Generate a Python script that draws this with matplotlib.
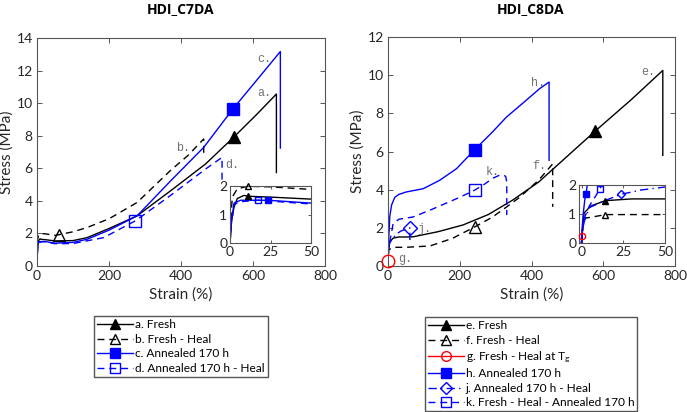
import numpy as np
import matplotlib
matplotlib.use('Agg')
import matplotlib.pyplot as plt
from matplotlib.lines import Line2D

plt.rcParams['font.family'] = ['Lato', 'DejaVu Sans']
plt.rcParams['mathtext.fontset'] = 'custom'
plt.rcParams['mathtext.rm'] = 'Lato'
plt.rcParams['mathtext.it'] = 'Lato'

# ---- HDI_C7DA (strain %, stress MPa) ----
a_x = [0, 1, 2.5, 4.5, 8.6, 11.3, 25, 50, 100, 139, 200, 278, 370, 468, 546, 610, 665, 665]
a_y = [0, 0.8, 1.26, 1.56, 1.67, 1.64, 1.61, 1.54, 1.56, 1.74, 2.3, 3.08, 4.6, 6.26, 7.9, 9.3, 10.56, 5.74]
b_x = [0, 0.6, 1.4, 4.5, 11, 25, 50, 60, 100, 139, 200, 278, 370, 420, 463, 463]
b_y = [0, 0.9, 1.61, 1.9, 1.99, 1.97, 1.88, 1.92, 2.1, 2.36, 2.9, 3.9, 5.85, 6.8, 7.8, 6.77]
c_x = [0, 1, 2.5, 6.5, 23.6, 50, 100, 139, 200, 278, 370, 463, 544, 610, 676, 676]
c_y = [0, 0.8, 1.4, 1.5, 1.5, 1.4, 1.45, 1.64, 2.2, 3.08, 5.2, 7.28, 9.64, 11.4, 13.17, 7.24]
d_x = [0, 1, 2.5, 6.5, 17.4, 50, 100, 185, 273, 369, 417, 468, 514, 514]
d_y = [0, 0.8, 1.35, 1.45, 1.5, 1.37, 1.38, 1.74, 2.77, 4.3, 5.1, 5.95, 6.67, 5.0]

# ---- HDI_C8DA ----
e_x = [0, 0.8, 1.6, 5.7, 14.3, 30, 50, 70, 140, 209, 280, 348, 420, 479, 577, 680, 766, 766]
e_y = [0, 0.6, 1.04, 1.28, 1.46, 1.52, 1.52, 1.53, 1.8, 2.15, 2.7, 3.46, 4.4, 5.4, 7.06, 8.75, 10.25, 5.8]
f_x = [0, 0.8, 1.6, 7.8, 14.3, 50, 117, 180, 242, 290, 331, 367, 420, 459, 459]
f_y = [0, 0.5, 0.85, 0.91, 0.98, 0.98, 1.05, 1.45, 2.05, 2.55, 3.1, 3.6, 4.5, 5.35, 3.1]
g_x = [0, 0.3, 0.6, 1.0]
g_y = [0, 0.25, 0.5, 0.7]
h_x = [0, 0.5, 1, 2, 2.7, 5, 10, 19, 30, 51, 98, 144, 191, 242, 290, 330, 380, 423, 449, 449]
h_y = [0, 0.6, 1.0, 1.5, 1.7, 2.6, 3.2, 3.6, 3.75, 3.88, 4.05, 4.49, 5.1, 6.1, 7.0, 7.8, 8.6, 9.3, 9.64, 5.54]
j_x = [0, 0.5, 1.6, 4.7, 13.9, 23.7, 36, 50, 61, 61]
j_y = [0, 0.4, 0.73, 1.22, 1.46, 1.68, 1.83, 1.93, 2.0, 1.36]
k_x = [0, 0.6, 2, 4.7, 8.8, 10.8, 14, 30, 70, 120, 163, 200, 242, 270, 292, 310, 320, 328, 331, 331]
k_y = [0, 0.5, 0.9, 1.28, 1.65, 1.85, 2.2, 2.45, 2.57, 2.95, 3.3, 3.6, 3.98, 4.3, 4.6, 4.75, 4.77, 4.7, 4.4, 2.67]

# marker index on main plot / inset
left_series = [
    # x, y, color, style, marker, filled, main idx, inset idx, label
    (a_x, a_y, 'black', '-', '^', True, 14, 5, 'a. Fresh'),
    (b_x, b_y, 'black', '--', '^', False, 7, 4, 'b. Fresh - Heal'),
    (c_x, c_y, 'blue', '-', 's', True, 12, 4, 'c. Annealed 170 h'),
    (d_x, d_y, 'blue', '--', 's', False, 8, 4, 'd. Annealed 170 h - Heal'),
]
right_series = [
    (e_x, e_y, 'black', '-', '^', True, 14, 4, 'e. Fresh'),
    (f_x, f_y, 'black', '--', '^', False, 8, 4, 'f. Fresh - Heal'),
    (g_x, g_y, 'red', '-', 'o', False, 1, 1, 'g. Fresh - Heal at T$_\\mathregular{g}$'),
    (h_x, h_y, 'blue', '-', 's', True, 13, 4, 'h. Annealed 170 h'),
    (j_x, j_y, 'blue', '-.', 'D', False, 8, 5, 'j. Annealed 170 h - Heal'),
    (k_x, k_y, 'blue', '--', 's', False, 12, 5, 'k. Fresh - Heal - Annealed 170 h'),
]
left_labels = [('a.', 632, 10.6), ('b.', 405, 7.24), ('c.', 630, 12.7), ('d.', 542, 6.2)]
right_labels = [('e.', 725, 10.15), ('f.', 421, 5.24), ('g.', 47, 0.38), ('h.', 419, 9.6),
                ('j.', 102, 1.96), ('k.', 293, 4.93)]

DASHES = {'--': (5, 3.5), '-.': (6, 3, 1, 3)}
W, H = 687, 412


def style_ax(ax, size=10):
    for s in ax.spines.values():
        s.set_color('#555555')
        s.set_linewidth(0.8)
    ax.tick_params(direction='in', top=True, right=True, length=3.5, width=0.7,
                   color='#555555', labelsize=size, labelcolor='#262626', pad=3)


def draw(ax, series, inset=False):
    for x, y, col, ls, mk, filled, mi, ii, lab in series:
        ln, = ax.plot(x, y, color=col, lw=1.0, linestyle=ls)
        if ls in DASHES:
            ln.set_dashes(DASHES[ls])
        idx = ii if inset else mi
        ms = (4.5 if mk != 'D' else 4) if inset else (8 if mk != 'D' else 7)
        if mk == 'o' and not inset:
            ms = 9
        ax.plot([x[idx]], [y[idx]], marker=mk, ms=ms, color=col, mec=col, mew=1.0,
                mfc=col if filled else 'none', linestyle='none', clip_on=False, zorder=5)


def legend_handles(series):
    hs = []
    for x, y, col, ls, mk, filled, mi, ii, lab in series:
        h = Line2D([], [], color=col, linestyle=ls, lw=1.0, marker=mk,
                   ms=7 if mk != 'D' else 6, mec=col, mfc=col if filled else 'none')
        if ls in DASHES:
            h.set_dashes(DASHES[ls])
        hs.append(h)
    return hs, [s[-1] for s in series]


fig = plt.figure(figsize=(6.87, 4.12), dpi=100)
ax1 = fig.add_axes([37 / W, 1 - 266 / H, 288 / W, 228 / H])
ax2 = fig.add_axes([388 / W, 1 - 266 / H, 287 / W, 229 / H])

for ax, series, labels, ymax, cx, title in [
        (ax1, left_series, left_labels, 14, 181, 'HDI_C7DA'),
        (ax2, right_series, right_labels, 12, 531, 'HDI_C8DA')]:
    draw(ax, series)
    ax.set_xlim(0, 800)
    ax.set_ylim(0, ymax)
    ax.set_xticks(range(0, 801, 200))
    ax.set_yticks(range(0, ymax + 1, 2))
    style_ax(ax, 10)
    ax.set_xlabel('Strain (%)', fontsize=11, color='#262626', labelpad=4)
    ax.set_ylabel('Stress (MPa)', fontsize=11, color='#262626', labelpad=2)
    for t, tx, ty in labels:
        ax.text(tx, ty, t, family='Liberation Mono', fontsize=8.5, color='#707070',
                ha='center', va='center')
    fig.text(cx / W, 1 - 9 / H, title, family='Open Sans', fontweight='bold',
             fontsize=10, ha='center', va='center')

ins1 = fig.add_axes([230 / W, 1 - 243 / H, 81 / W, 57 / H])
ins2 = fig.add_axes([579 / W, 1 - 243 / H, 86 / W, 58 / H])
for ins, series, x0 in [(ins1, left_series, 0), (ins2, right_series, -1.5)]:
    draw(ins, series, inset=True)
    ins.set_xlim(x0, 50)
    ins.set_ylim(0, 2)
    ins.set_xticks([0, 25, 50])
    ins.set_yticks([0, 1, 2])
    style_ax(ins, 10)
    ins.tick_params(length=2.5, pad=2)

legend_kw = dict(loc='upper center', fontsize=8.6, handlelength=3.0, handletextpad=0.15,
                 labelspacing=0.3, borderpad=0.25, borderaxespad=0, fancybox=False,
                 framealpha=1, edgecolor='#555555', handleheight=0.6)
hs, ls_ = legend_handles(left_series)
fig.legend(hs, ls_, bbox_to_anchor=(181 / W, 1 - 316 / H), **legend_kw)
hs, ls_ = legend_handles(right_series)
fig.legend(hs, ls_, bbox_to_anchor=(531 / W, 1 - 317 / H), **legend_kw)

fig.savefig('out.png', dpi=100)
